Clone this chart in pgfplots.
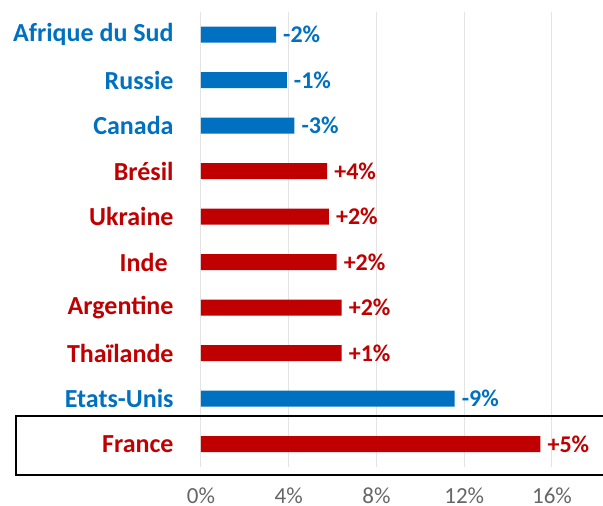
\documentclass[border=0pt]{standalone}
\usepackage{fontspec}
\setmainfont{Carlito}
\usepackage{pgfplots}
\pgfplotsset{compat=1.18}

\definecolor{bleu}{HTML}{0070C0}
\definecolor{rouge}{HTML}{C00000}
\definecolor{grille}{HTML}{E3E3E3}
\definecolor{gristxt}{HTML}{666666}

\begin{document}
\begin{tikzpicture}
\begin{axis}[
  xbar,
  bar shift=0pt,
  bar width=16pt,
  scale only axis,
  width=351pt,
  height=455pt,
  xmin=0, xmax=16,
  ymin=0.5, ymax=10.5,
  xtick={0,4,8,12,16},
  xticklabel={\pgfmathprintnumber{\tick}\%},
  /pgf/number format/assume math mode=true,
  xticklabel style={font=\fontsize{23}{27}\selectfont, text=gristxt, inner sep=0pt, anchor=north, yshift=-21pt},
  ytick={1,...,10},
  yticklabels={
    \textcolor{rouge}{France},
    \textcolor{bleu}{Etats-Unis},
    \textcolor{rouge}{Thaïlande},
    \textcolor{rouge}{Argentine},
    \textcolor{rouge}{Inde\ },
    \textcolor{rouge}{Ukraine},
    \textcolor{rouge}{Brésil},
    \textcolor{bleu}{Canada},
    \textcolor{bleu}{Russie},
    \textcolor{bleu}{Afrique du Sud}},
  yticklabel style={font=\fontsize{26}{30}\selectfont\bfseries, inner sep=0pt, anchor=east, xshift=-23pt},
  xmajorgrids,
  grid style={grille, line width=1pt},
  axis line style={draw=none},
  major tick style={draw=none},
  clip=false,
  nodes near coords={\pgfplotspointmeta\%},
  point meta=explicit symbolic,
  every node near coord/.append style={font=\fontsize{24}{28}\selectfont\bfseries, inner sep=0pt, anchor=west, xshift=7pt},
]
  \addplot[fill=bleu, draw=none, every node near coord/.append style={text=bleu}] coordinates {
    (3.42,10) [-2]
    (3.91,9)  [-1]
    (4.26,8)  [-3]
    (11.56,2) [-9]
  };
  \addplot[fill=rouge, draw=none, every node near coord/.append style={text=rouge}] coordinates {
    (5.75,7) [+4]
    (5.83,6) [+2]
    (6.18,5) [+2]
    (6.41,4) [+2]
    (6.41,3) [+1]
    (15.47,1) [+5]
  };
  \coordinate (O) at (rel axis cs:0,0);
\end{axis}
\draw[line width=1.8pt] (O) ++(-185pt,51pt) rectangle ++(600pt,-59pt);
\pgfresetboundingbox
\path[use as bounding box] (O) ++(-201pt,-39pt) rectangle ++(603pt,506pt);
\end{tikzpicture}
\end{document}
